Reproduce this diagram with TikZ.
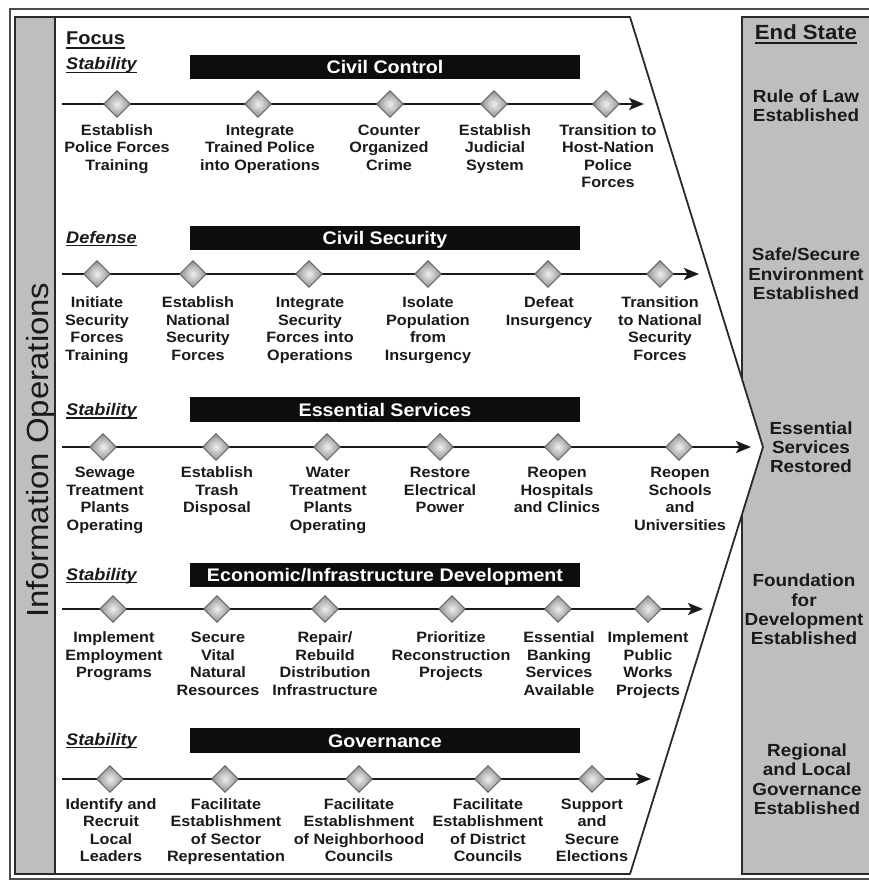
\documentclass[tikz,border=0pt]{standalone}
\usepackage{fontspec}
\setmainfont{Liberation Sans}[FakeStretch=1.08]
\usetikzlibrary{shapes.geometric,arrows.meta}
\definecolor{txt}{HTML}{1A1A1A}
\definecolor{panel}{HTML}{BEBEBE}
\definecolor{framec}{HTML}{2A2A2A}
\definecolor{dfill}{HTML}{8E8E8E}
\definecolor{dedge}{HTML}{5E5E5E}
\newcommand{\labfont}{\fontsize{15}{17.6}\selectfont\bfseries}
\newcommand{\stfont}{\fontsize{17.5}{19.3}\selectfont\bfseries}
\begin{document}
\begin{tikzpicture}[x=1pt,y=-1pt,
 lab/.style={anchor=north, align=center, inner sep=0pt, font=\labfont, text=txt},
 endtxt/.style={anchor=north, align=center, inner sep=0pt, font=\stfont, text=txt},
 focustxt/.style={anchor=base west, inner sep=0pt, font=\fontsize{16.8}{20}\selectfont\bfseries\itshape, text=txt},
 headtxt/.style={inner sep=0pt, font=\fontsize{18.5}{22}\selectfont\bfseries, text=txt},
 barbox/.style={fill=black!95, text=white, minimum width=390pt, minimum height=24.5pt, inner sep=0pt, text height=13pt, text depth=0pt, font=\fontsize{18.2}{22}\selectfont\bfseries},
 mile/.style={diamond, aspect=1, minimum size=27pt, inner sep=0pt, draw=dedge, line width=0.9pt, inner color=white!94!black, outer color=dfill},
 flow/.style={draw=txt, line width=2.7pt, -{Stealth[length=15pt,width=12pt,inset=3.5pt]}},
 uline/.style={draw=txt, line width=1.5pt},
]
\useasboundingbox (0,0) rectangle (868,880);
% frames
\draw[draw=black!70, line width=1.2pt] (10,9) rectangle (890,879);
\draw[fill=panel, draw=framec, line width=1.8pt] (742,17) rectangle (890,874);
\draw[fill=panel, draw=framec, line width=1.8pt] (15,17) rectangle (55,874);
\draw[fill=white, draw=framec, line width=1.8pt, line join=round] (55,17) -- (630,17) -- (763,447) -- (630,874) -- (55,874) -- cycle;
% side title
\node[rotate=90, anchor=base, inner sep=0pt, font=\fontsize{30.5}{34}\selectfont, text=txt] (io) at (48.5,450) {Information Operations};
% headings
\node[headtxt, anchor=base west] (focus) at (66,45) {Focus};
\draw[uline] ([yshift=-3pt]focus.base west) -- ([yshift=-3pt]focus.base east);
\node[headtxt, anchor=base, font=\fontsize{20.5}{24}\selectfont\bfseries] (endst) at (806,40) {End State};
\draw[uline] ([yshift=-3pt]endst.base west) -- ([yshift=-3pt]endst.base east);
% category labels
\node[focustxt] (c1) at (66,70) {Stability};
\node[focustxt] (c2) at (66,243) {Defense};
\node[focustxt] (c3) at (66,415.5) {Stability};
\node[focustxt] (c4) at (66,580) {Stability};
\node[focustxt] (c5) at (66,745) {Stability};
\foreach \c in {c1,c2,c3,c4,c5}{
  \draw[uline] ([yshift=-2.5pt]\c.base west) -- ([yshift=-2.5pt]\c.base east);
}
% bars
\node[barbox] (b1) at (385,67) {Civil Control};
\node[barbox] (b2) at (385,238) {Civil Security};
\node[barbox] (b3) at (385,409.5) {Essential Services};
\node[barbox] (b4) at (385,575) {Economic/Infrastructure Development};
\node[barbox] (b5) at (385,740.5) {Governance};
% flow lines
\coordinate (s1) at (62,104);   \coordinate (e1) at (644,104);
\coordinate (s2) at (62,274);   \coordinate (e2) at (699,274);
\coordinate (s3) at (62,447);   \coordinate (e3) at (751,447);
\coordinate (s4) at (62,609);   \coordinate (e4) at (703,609);
\coordinate (s5) at (62,779);   \coordinate (e5) at (651,779);
\foreach \r in {1,...,5}{\draw[flow] (s\r) -- (e\r);}
% row 1
\foreach \dx/\lx/\t [count=\i] in {117/117/{Establish\\Police Forces\\Training},
  258/260/{Integrate\\Trained Police\\into Operations},
  390/389/{Counter\\Organized\\Crime},
  494/495/{Establish\\Judicial\\System},
  606/608/{Transition to\\Host-Nation\\Police\\Forces}}{
  \node[mile] (r1d\i) at (\dx,104) {};
  \node[lab] (r1l\i) at (\lx,122.6) {\strut\t};
}
% row 2
\foreach \dx/\lx/\t [count=\i] in {97/97/{Initiate\\Security\\Forces\\Training},
  193/198/{Establish\\National\\Security\\Forces},
  309/310/{Integrate\\Security\\Forces into\\Operations},
  428/428/{Isolate\\Population\\from\\Insurgency},
  548/549/{Defeat\\Insurgency},
  660/660/{Transition\\to National\\Security\\Forces}}{
  \node[mile] (r2d\i) at (\dx,274) {};
  \node[lab] (r2l\i) at (\lx,295) {\strut\t};
}
% row 3
\foreach \dx/\lx/\t [count=\i] in {103/105/{Sewage\\Treatment\\Plants\\Operating},
  216/217/{Establish\\Trash\\Disposal},
  327/328/{Water\\Treatment\\Plants\\Operating},
  440/440/{Restore\\Electrical\\Power},
  558/557/{Reopen\\Hospitals\\and Clinics},
  679/680/{Reopen\\Schools\\and\\Universities}}{
  \node[mile] (r3d\i) at (\dx,447) {};
  \node[lab] (r3l\i) at (\lx,465) {\strut\t};
}
% row 4
\foreach \dx/\lx/\t [count=\i] in {113/114/{Implement\\Employment\\Programs},
  217/218/{Secure\\Vital\\Natural\\Resources},
  325/325/{Repair/\\Rebuild\\Distribution\\Infrastructure},
  452/451/{Prioritize\\Reconstruction\\Projects},
  558/559/{Essential\\Banking\\Services\\Available},
  648/648/{Implement\\Public\\Works\\Projects}}{
  \node[mile] (r4d\i) at (\dx,609) {};
  \node[lab] (r4l\i) at (\lx,630) {\strut\t};
}
% row 5
\foreach \dx/\lx/\t [count=\i] in {110/111/{Identify and\\Recruit\\Local\\Leaders},
  225/226/{Facilitate\\Establishment\\of Sector\\Representation},
  359/359/{Facilitate\\Establishment\\of Neighborhood\\Councils},
  488/488/{Facilitate\\Establishment\\of District\\Councils},
  592/592/{Support\\and\\Secure\\Elections}}{
  \node[mile] (r5d\i) at (\dx,779) {};
  \node[lab] (r5l\i) at (\lx,796.6) {\strut\t};
}
% end states
\node[endtxt] (es1) at (806,88.5) {\strut Rule of Law\\Established};
\node[endtxt] (es2) at (806,247) {\strut Safe/Secure\\Environment\\Established};
\node[endtxt] (es3) at (811,420.5) {\strut Essential\\Services\\Restored};
\node[endtxt] (es4) at (804,573) {\strut Foundation\\for\\Development\\Established};
\node[endtxt] (es5) at (807,742.7) {\strut Regional\\and Local\\Governance\\Established};
\end{tikzpicture}
\end{document}
